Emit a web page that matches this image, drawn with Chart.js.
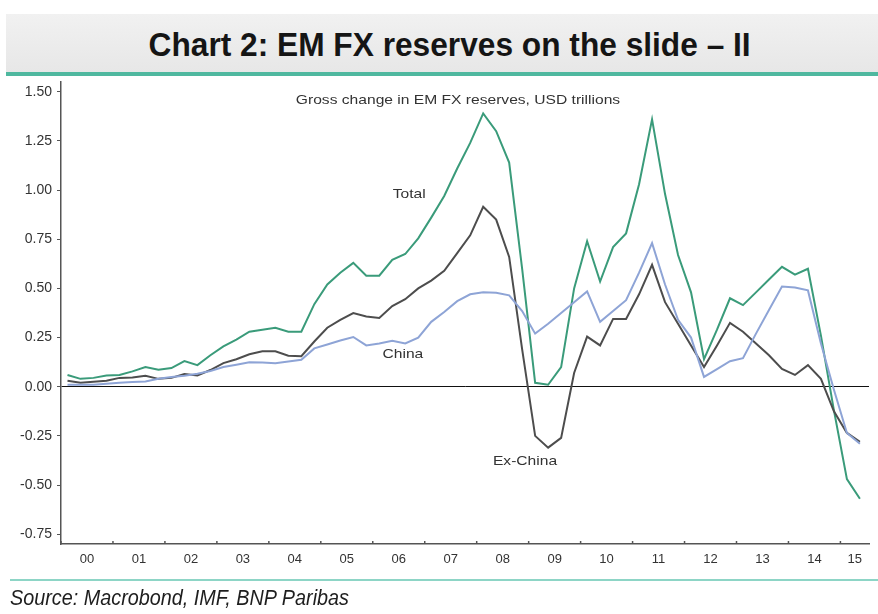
<!DOCTYPE html>
<html>
<head>
<meta charset="utf-8">
<script src="https://cdn.jsdelivr.net/npm/chart.js@4.4.0/dist/chart.umd.min.js"></script>
<style>
  html, body { margin: 0; padding: 0; background: #fff; }
  #page { position: relative; width: 878px; height: 614px; overflow: hidden; font-family: "Liberation Sans", Arial, sans-serif; }
  #chartBox { position: absolute; left: 0; top: 0; width: 878px; height: 614px; }
  .heading {
    position: absolute; left: 6px; top: 14px; width: 856px; height: 58px; padding-left: 16px;
    background: linear-gradient(#f1f1f1, #e7e7e7);
    border-bottom: 4px solid #4fb89f;
    text-align: center; line-height: 62px;
    font-weight: bold; font-size: 33px; color: #151515;
  }
  .heading span { display: inline-block; transform: scaleX(0.96); }
  .source {
    position: absolute; left: 10px; top: 579px; width: 868px; height: 35px;
    border-top: 2px solid #8dd5c6;
    font-style: italic; font-size: 22px; line-height: 34px; color: #1e1e1e;
  }
  .source span { display: inline-block; transform: scaleX(0.9); transform-origin: left center; }
</style>
</head>
<body>
<div id="page">
  <div id="chartBox"><canvas id="reserves" width="878" height="614"></canvas></div>
  <div class="heading"><span>Chart 2: EM FX reserves on the slide – II</span></div>
  <div class="source"><span>Source: Macrobond, IMF, BNP Paribas</span></div>
</div>
<script>
// quarterly observations, 2000 Q1 .. 2015 Q2
const quarters = [];
for (let i = 0; i < 62; i++) quarters.push(`${2000 + Math.floor(i / 4)}Q${i % 4 + 1}`);

// gross change in EM FX reserves, USD trillions
const total = [
  0.06, 0.04, 0.045, 0.057, 0.06, 0.078, 0.10, 0.087, 0.095, 0.13,
  0.11, 0.16, 0.205, 0.24, 0.28, 0.29, 0.30, 0.28, 0.28, 0.42,
  0.52, 0.58, 0.63, 0.565, 0.565, 0.645, 0.675, 0.755, 0.86, 0.97,
  1.11, 1.24, 1.39, 1.30, 1.14, 0.60, 0.02, 0.01, 0.10, 0.50,
  0.74, 0.535, 0.71, 0.78, 1.03, 1.36, 0.98, 0.67, 0.48, 0.14,
  0.29, 0.45, 0.415, 0.48, 0.545, 0.61, 0.57, 0.60, 0.26, -0.12,
  -0.47, -0.57
];
const exChina = [
  0.03, 0.02, 0.025, 0.03, 0.045, 0.047, 0.056, 0.04, 0.045, 0.065,
  0.057, 0.085, 0.12, 0.14, 0.165, 0.18, 0.18, 0.158, 0.155, 0.23,
  0.30, 0.34, 0.375, 0.357, 0.35, 0.41, 0.445, 0.50, 0.54, 0.59,
  0.68, 0.77, 0.915, 0.85, 0.66, 0.19, -0.25, -0.31, -0.26, 0.07,
  0.255, 0.21, 0.345, 0.345, 0.47, 0.62, 0.43, 0.32, 0.21, 0.10,
  0.21, 0.325, 0.28, 0.22, 0.16, 0.09, 0.06, 0.11, 0.04, -0.125,
  -0.235, -0.28
];
const china = [
  0.01, 0.01, 0.01, 0.015, 0.02, 0.024, 0.027, 0.04, 0.05, 0.056,
  0.066, 0.08, 0.10, 0.112, 0.125, 0.123, 0.12, 0.128, 0.137, 0.195,
  0.215, 0.235, 0.253, 0.21, 0.22, 0.234, 0.22, 0.25, 0.33, 0.38,
  0.435, 0.47, 0.48, 0.478, 0.465, 0.385, 0.27, 0.32, 0.375, 0.43,
  0.485, 0.33, 0.385, 0.44, 0.58, 0.73, 0.52, 0.34, 0.25, 0.05,
  0.09, 0.13, 0.145, 0.27, 0.39, 0.51, 0.505, 0.49, 0.22, -0.015,
  -0.235, -0.29
];

const yearTicks = [2000, 2001, 2002, 2003, 2004, 2005, 2006, 2007, 2008, 2009, 2010, 2011, 2012, 2013, 2014, 2015];
const valueTicks = [-0.75, -0.5, -0.25, 0, 0.25, 0.5, 0.75, 1, 1.25, 1.5];

// in-chart captions, placed in data units
const notes = [
  { text: 'Gross change in EM FX reserves, USD trillions', x: 2007.64, y: 1.455 },
  { text: 'Total', x: 2006.70, y: 0.976 },
  { text: 'China', x: 2006.58, y: 0.166 },
  { text: 'Ex-China', x: 2008.93, y: -0.378 }
];

// quarter label -> mid-quarter decimal year
const toYear = q => +q.slice(0, 4) + (+q.slice(5) - 0.5) / 4;
const points = vals => vals.map((v, i) => ({ x: toYear(quarters[i]), y: v }));

const textColor = '#333';
const axisColor = '#555';

const decorations = {
  id: 'decorations',
  afterDraw(chart) {
    const { ctx, scales: { x, y } } = chart;
    const bottom = chart.chartArea.bottom;
    ctx.save();
    // short inward tick marks at year boundaries
    ctx.strokeStyle = axisColor;
    ctx.lineWidth = 1.5;
    yearTicks.forEach(yr => {
      const px = x.getPixelForValue(yr);
      ctx.beginPath();
      ctx.moveTo(px, bottom);
      ctx.lineTo(px, bottom - 3);
      ctx.stroke();
    });
    // year labels sit between the marks
    ctx.fillStyle = textColor;
    ctx.font = '13px "Liberation Sans", Arial, sans-serif';
    ctx.textAlign = 'center';
    ctx.textBaseline = 'middle';
    yearTicks.forEach(yr => {
      const mid = Math.min(yr + 0.5, (yr + x.max) / 2);
      ctx.fillText(String(yr).slice(2), x.getPixelForValue(mid), bottom + 15);
    });
    // series captions
    notes.forEach(n => {
      ctx.save();
      ctx.translate(x.getPixelForValue(n.x), y.getPixelForValue(n.y));
      ctx.scale(1.2, 1);
      ctx.fillText(n.text, 0, 0);
      ctx.restore();
    });
    ctx.restore();
  }
};

new Chart(document.getElementById('reserves'), {
  type: 'line',
  data: {
    datasets: [
      { label: 'China', data: points(china), borderColor: '#8ea4d6', borderWidth: 2 },
      { label: 'Ex-China', data: points(exChina), borderColor: '#4d4d4d', borderWidth: 2 },
      { label: 'Total', data: points(total), borderColor: '#3a9b7a', borderWidth: 2 }
    ]
  },
  options: {
    responsive: false,
    animation: false,
    elements: { point: { radius: 0 }, line: { tension: 0 } },
    layout: { padding: { top: 82, right: 9, bottom: 40, left: 0 } },
    plugins: { legend: { display: false }, tooltip: { enabled: false } },
    scales: {
      x: {
        type: 'linear',
        min: 2000,
        max: 2015.55,
        afterBuildTicks: s => { s.ticks = yearTicks.map(v => ({ value: v })); },
        afterFit: s => { s.height = 30; },
        ticks: { display: false },
        grid: { display: false },
        border: { color: axisColor, width: 1.5 }
      },
      y: {
        min: -0.8,
        max: 1.55,
        afterBuildTicks: s => { s.ticks = valueTicks.map(v => ({ value: v })); },
        afterFit: s => { s.width = 61; },
        ticks: {
          color: textColor,
          padding: 5,
          font: { family: '"Liberation Sans", Arial, sans-serif', size: 14 },
          callback: v => v.toFixed(2)
        },
        grid: {
          color: c => (c.tick && c.tick.value === 0 ? '#111' : 'rgba(0,0,0,0)'),
          tickColor: axisColor,
          tickLength: 4,
          lineWidth: 1
        },
        border: { color: axisColor, width: 1.5 }
      }
    }
  },
  plugins: [decorations]
});
</script>
</body>
</html>
